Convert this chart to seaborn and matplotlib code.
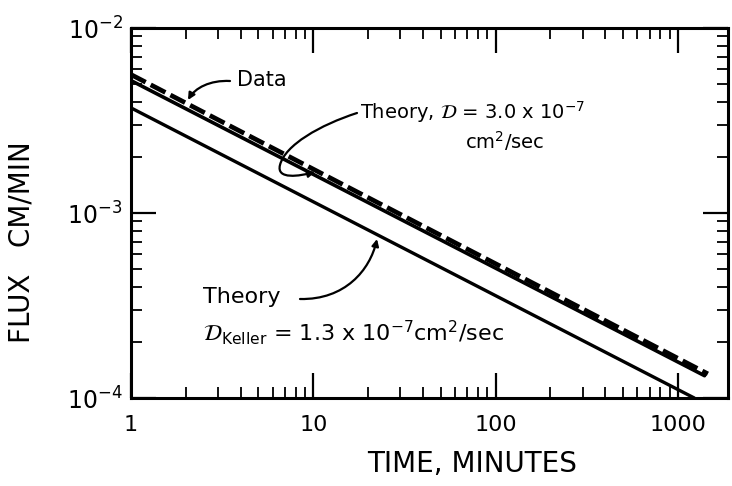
import numpy as np
import pandas as pd
import matplotlib
matplotlib.use("Agg")
import matplotlib.pyplot as plt
from matplotlib.path import Path
from matplotlib.patches import FancyArrowPatch
import seaborn as sns

# ---- data ----
data_time = [1.0, 1460.0]
data_flux = [5.6e-3, 1.35e-4]

theory30_time = [1.0, 1400.0]
theory30_flux = [5.2e-3, 1.32e-4]

keller_time = [1.0, 1230.0]
keller_flux = [3.7e-3, 1.0e-4]

x_ticks = [1, 10, 100, 1000]
x_ticklabels = ["1", "10", "100", "1000"]
y_ticks = [1e-4, 1e-3, 1e-2]
y_ticklabels = ["$10^{-4}$", "$10^{-3}$", "$10^{-2}$"]

sns.set_theme(style="ticks")
plt.rcParams['font.family'] = ['DejaVu Sans']
plt.rcParams['mathtext.fontset'] = 'dejavusans'
plt.rcParams['text.color'] = 'black'
plt.rcParams['axes.labelcolor'] = 'black'
plt.rcParams['xtick.color'] = 'black'
plt.rcParams['ytick.color'] = 'black'

W, H = 732, 486
fig = plt.figure(figsize=(W / 100, H / 100), dpi=100)
L, R, T, B = 131, 728, 28, 398
ax = fig.add_axes([L / W, 1 - B / H, (R - L) / W, (B - T) / H])

df_theory = pd.DataFrame({"t": theory30_time, "f": theory30_flux})
df_keller = pd.DataFrame({"t": keller_time, "f": keller_flux})
df_data = pd.DataFrame({"t": data_time, "f": data_flux})

sns.lineplot(data=df_theory, x="t", y="f", ax=ax, color="black", lw=2.6,
             solid_capstyle="round")
sns.lineplot(data=df_keller, x="t", y="f", ax=ax, color="black", lw=2.4)
sns.lineplot(data=df_data, x="t", y="f", ax=ax, color="black", lw=3.4,
             linestyle=(0, (3.5, 1.2)))

ax.set_xscale("log")
ax.set_yscale("log")
ax.set_xlim(1, 10 ** ((R - L) / 182.3))
ax.set_ylim(1e-4, 1e-2)

ax.set_xticks(x_ticks)
ax.set_xticklabels(x_ticklabels)
ax.set_yticks(y_ticks)
ax.set_yticklabels(y_ticklabels)
ax.set_xlabel("")
ax.set_ylabel("")

for s in ax.spines.values():
    s.set_linewidth(2.2)
    s.set_color("black")

ax.tick_params(which="major", direction="in", length=18, width=1.6,
               top=True, right=True, colors="black")
ax.tick_params(which="minor", direction="in", length=8, width=1.3,
               top=True, right=True, colors="black")
ax.tick_params(axis="x", which="major", labelsize=16, pad=12)
ax.tick_params(axis="y", which="major", labelsize=17, pad=6)

fig.text(472 / W, 1 - 464 / H, "TIME, MINUTES", fontsize=20,
         ha="center", va="center", color="black")
fig.text(22 / W, 1 - 242 / H, "FLUX   CM/MIN", fontsize=20,
         ha="center", va="center", rotation=90, color="black")


def af(px, py):
    return ((px - L) / (R - L), (B - py) / (B - T))


txt = dict(transform=ax.transAxes, fontsize=15, color="black", va="center")
ax.text(*af(237, 80), "Data", **txt)
ax.text(*af(360, 112), r"Theory, $\mathcal{D}$ = 3.0 x 10$^{-7}$",
        **dict(txt, fontsize=14))
ax.text(*af(465, 141), r"cm$^2$/sec", **dict(txt, fontsize=14))
ax.text(*af(203, 297), "Theory", **dict(txt, fontsize=16))
ax.text(*af(203, 333), r"$\mathcal{D}_{\rm Keller}$ = 1.3 x 10$^{-7}$cm$^2$/sec",
        **dict(txt, fontsize=16))


def curve(points, codes):
    verts = [af(*p) for p in points]
    p = Path(verts, codes)
    a = FancyArrowPatch(path=p, arrowstyle="-|>", mutation_scale=10,
                        color="black", lw=1.6, transform=ax.transAxes)
    ax.add_patch(a)


C4 = Path.CURVE4
curve([(230, 81), (210, 80), (195, 88), (188, 100)],
      [Path.MOVETO, C4, C4, C4])
curve([(357, 113), (320, 125), (285, 145), (280, 165),
       (276, 180), (300, 176), (315, 172)],
      [Path.MOVETO, C4, C4, C4, C4, C4, C4])
curve([(300, 299), (345, 300), (370, 270), (377, 239)],
      [Path.MOVETO, C4, C4, C4])

fig.savefig("out.png", dpi=100)
